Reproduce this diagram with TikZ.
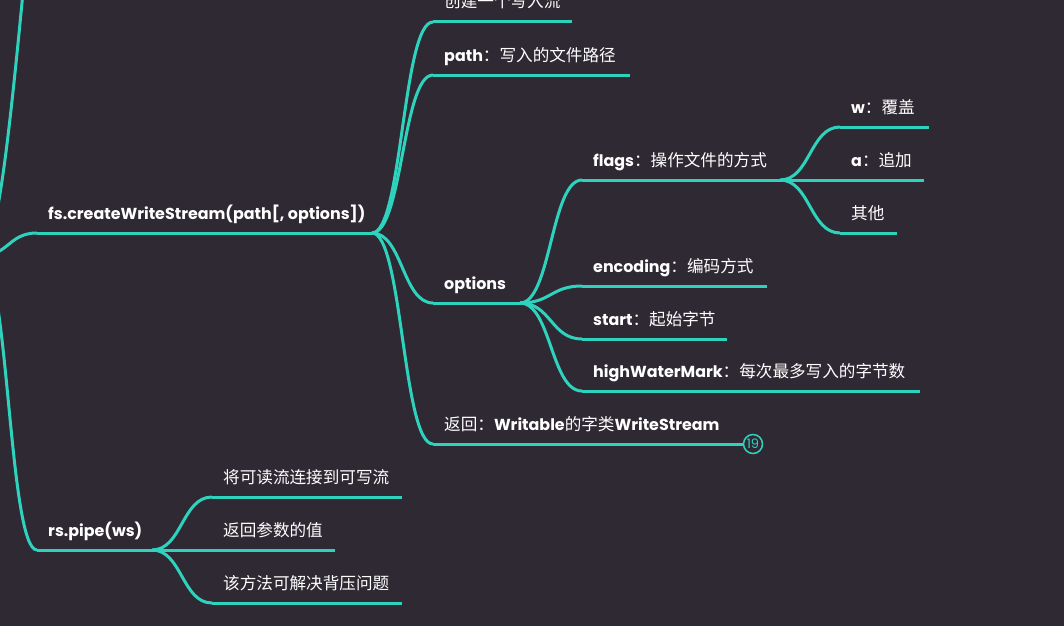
\documentclass[tikz,border=0pt]{standalone}
\usepackage{fontspec}
\setmainfont{Poppins}
\newfontfamily\cjk{Noto Sans CJK SC}
\usetikzlibrary{calc}
\definecolor{bgc}{HTML}{2F2933}
\definecolor{lnc}{HTML}{2ED3BE}
\newcommand\zh[1]{{\cjk\fontsize{16.6}{18}\selectfont #1}}
\newcommand\topic[5]{%
  \coordinate (#1-s) at (#2,#4);
  \coordinate (#1-e) at (#3,#4);
  \draw[uline] (#1-s) -- (#1-e);
  \node[lbl] (#1) at ([xshift=11pt,yshift=14pt]#1-s) {#5};
}
\newcommand\branch[2]{%
  \draw[conn] let \p1=(#1), \p2=(#2) in
    (#1) .. controls ({(\x1+\x2)/2},\y1) and ({(\x1+\x2)/2},\y2) .. (#2);}
\begin{document}
\begin{tikzpicture}[x=1pt,y=-1pt,
  uline/.style={draw=lnc,line width=3pt},
  conn/.style={draw=lnc,line width=3pt},
  lbl/.style={anchor=base west,inner sep=0pt,text=white,font=\fontsize{15.9}{18}\selectfont}]
\useasboundingbox (0,0) rectangle (1064,626);
\fill[bgc] (0,0) rectangle (1064,626);
\begin{scope}
\clip (0,0) rectangle (1064,626);
\coordinate (root) at (-20,256);
\coordinate (upper) at (28,-60);
\draw[conn] (root) .. controls (-2,250) and (10,130) .. (upper);

\topic{fs}{37}{372}{233}{\textbf{fs.createWriteStream(path[, options])}}
\topic{rs}{37}{152}{550}{\textbf{rs.pipe(ws)}}
\branch{root}{fs-s}
\branch{root}{rs-s}

\topic{c1}{433}{572}{22}{\zh{创建一个写入流}}
\topic{c2}{433}{630}{75}{\textbf{path}\zh{：写入的文件路径}}
\topic{c3}{433}{520}{303}{\textbf{options}}
\topic{c4}{433}{744}{444}{\zh{返回：}\textbf{Writable}\zh{的字类}\textbf{WriteStream}}
\foreach \c in {c1,c2,c3,c4} {\branch{fs-e}{\c-s}}

\topic{o1}{582}{780}{180}{\textbf{flags}\zh{：操作文件的方式}}
\topic{o2}{582}{767}{286}{\textbf{encoding}\zh{：编码方式}}
\topic{o3}{582}{727}{339}{\textbf{start}\zh{：起始字节}}
\topic{o4}{582}{920}{391}{\textbf{highWaterMark}\zh{：每次最多写入的字节数}}
\foreach \c in {o1,o2,o3,o4} {\branch{c3-e}{\c-s}}

\topic{f1}{840}{929}{127}{\textbf{w}\zh{：覆盖}}
\topic{f2}{840}{924}{180}{\textbf{a}\zh{：追加}}
\topic{f3}{840}{897}{233}{\zh{其他}}
\foreach \c in {f1,f2,f3} {\branch{o1-e}{\c-s}}

\topic{r1}{212}{402}{497}{\zh{将可读流连接到可写流}}
\topic{r2}{212}{335}{550}{\zh{返回参数的值}}
\topic{r3}{212}{402}{603}{\zh{该方法可解决背压问题}}
\foreach \c in {r1,r2,r3} {\branch{rs-e}{\c-s}}

\node[circle,draw=lnc,line width=1.5pt,fill=bgc,minimum size=19pt,inner sep=0pt,
  text=lnc,font=\fontsize{13}{14}\selectfont] (cnt) at ([xshift=9pt]c4-e) {19};
\end{scope}
\end{tikzpicture}
\end{document}
